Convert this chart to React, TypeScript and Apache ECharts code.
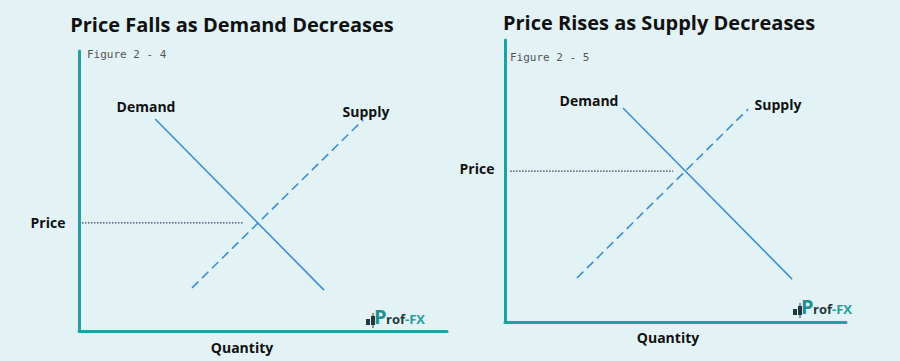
import React, { useEffect, useRef } from "react";
import * as echarts from "echarts";

// Left chart: Price Falls as Demand Decreases (data units 0..100)
const leftDemand: number[][] = [[20.7, 75.7], [66.6, 14.6]];
const leftSupply: number[][] = [[30.7, 15.4], [77.2, 75.4]];
const leftPrice: number[][] = [[0.8, 38.6], [44.6, 38.6]];

// Right chart: Price Rises as Supply Decreases
const rightDemand: number[][] = [[34.6, 75.9], [84.2, 15.2]];
const rightSupply: number[][] = [[21.1, 15.6], [71.3, 75.5]];
const rightPrice: number[][] = [[1.5, 53.5], [49.3, 53.5]];

const titles = ["Price Falls as Demand Decreases", "Price Rises as Supply Decreases"];
const figureLabels = ["Figure 2 - 4", "Figure 2 - 5"];

const BG = "#e3f3f5";
const TEAL = "#22a0a2";
const LINE = "#3b8fd6";
const DARK = "#111111";
const FONT = "'Open Sans', 'Noto Sans', sans-serif";

function axisPair(gridIndex: number) {
  return {
    type: "value" as const,
    min: 0,
    max: 100,
    gridIndex,
    axisLine: { show: true, onZero: false, lineStyle: { color: TEAL, width: 3 } },
    axisTick: { show: false },
    axisLabel: { show: false },
    splitLine: { show: false },
  };
}

function logo(x: number, y: number) {
  return {
    type: "group",
    x,
    y,
    children: [
      { type: "rect", shape: { x: 0, y: 10, width: 4, height: 6 }, style: { fill: "#1d3a40" } },
      { type: "line", shape: { x1: 7, y1: 4, x2: 7, y2: 19 }, style: { stroke: "#1d3a40", lineWidth: 1 } },
      { type: "rect", shape: { x: 5, y: 7, width: 4, height: 9 }, style: { fill: "#1d3a40" } },
      { type: "text", x: 8, y: -3, style: { text: "P", font: `bold 20px ${FONT}`, fill: "#1f8f95" } },
      { type: "text", x: 20, y: 3, style: { text: "rof", font: `bold 13px ${FONT}`, fill: "#1d3a40" } },
      { type: "text", x: 39, y: 3, style: { text: "-FX", font: `bold 13px ${FONT}`, fill: TEAL } },
    ],
  };
}

function text(t: string, x: number, y: number, font: string, fill = DARK, align = "center") {
  return {
    type: "text",
    x,
    y,
    style: { text: t, font, fill, textAlign: align, textVerticalAlign: "middle" },
  };
}

export default function App() {
  const ref = useRef<HTMLDivElement>(null);
  useEffect(() => {
    document.body.style.margin = "0";
    if (!ref.current) return;
    const chart = echarts.init(ref.current, undefined, { renderer: "svg" });
    const lineSeries = (data: number[][], idx: number, type: any, color = LINE, width = 1.6) => ({
      type: "line",
      xAxisIndex: idx,
      yAxisIndex: idx,
      data,
      showSymbol: false,
      symbol: "none",
      silent: true,
      lineStyle: { color, width, type },
    });
    chart.setOption({
      animation: false,
      backgroundColor: BG,
      grid: [
        { left: 79, top: 51, width: 368, height: 280 },
        { left: 505, top: 40, width: 341, height: 282 },
      ],
      xAxis: [axisPair(0), axisPair(1)],
      yAxis: [axisPair(0), axisPair(1)],
      series: [
        lineSeries(leftDemand, 0, "solid"),
        lineSeries(leftSupply, 0, [9, 5]),
        lineSeries(leftPrice, 0, [1.5, 1.5], "#34405a", 1.3),
        lineSeries(rightDemand, 1, "solid"),
        lineSeries(rightSupply, 1, [9, 5]),
        lineSeries(rightPrice, 1, [1.5, 1.5], "#34405a", 1.3),
      ],
      graphic: [
        text(titles[0], 232, 24, `bold 20px ${FONT}`),
        text(titles[1], 659, 22, `bold 20px ${FONT}`),
        text(figureLabels[0], 87, 54, `11px 'DejaVu Sans Mono', monospace`, "#555", "left"),
        text(figureLabels[1], 510, 57, `11px 'DejaVu Sans Mono', monospace`, "#555", "left"),
        text("Demand", 146, 106, `bold 14px ${FONT}`),
        text("Supply", 366, 111, `bold 14px ${FONT}`),
        text("Demand", 589, 100, `bold 14px ${FONT}`),
        text("Supply", 778, 104, `bold 14px ${FONT}`),
        text("Price", 48, 222, `bold 14px ${FONT}`),
        text("Price", 477, 168, `bold 14px ${FONT}`),
        text("Quantity", 242, 347, `bold 14px ${FONT}`),
        text("Quantity", 668, 337, `bold 14px ${FONT}`),
        logo(366, 309),
        logo(793, 299),
      ],
    });
    return () => chart.dispose();
  }, []);
  return <div ref={ref} style={{ width: 900, height: 361 }} />;
}
